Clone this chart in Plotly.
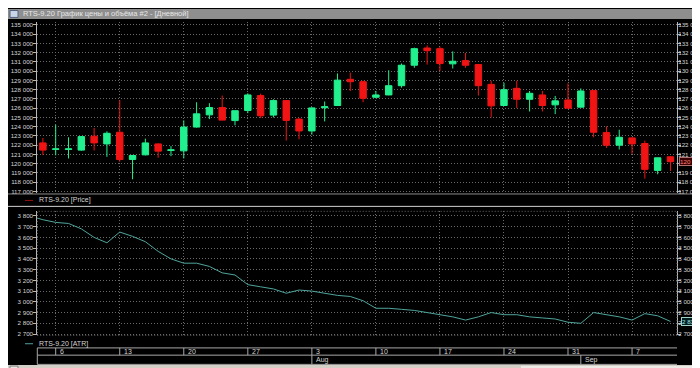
import plotly.graph_objects as go

# ---------------- data ----------------
dates = ["2020-07-03",
         "2020-07-06", "2020-07-07", "2020-07-08", "2020-07-09", "2020-07-10",
         "2020-07-13", "2020-07-14", "2020-07-15", "2020-07-16", "2020-07-17",
         "2020-07-20", "2020-07-21", "2020-07-22", "2020-07-23", "2020-07-24",
         "2020-07-27", "2020-07-28", "2020-07-29", "2020-07-30", "2020-07-31",
         "2020-08-03", "2020-08-04", "2020-08-05", "2020-08-06", "2020-08-07",
         "2020-08-10", "2020-08-11", "2020-08-12", "2020-08-13", "2020-08-14",
         "2020-08-17", "2020-08-18", "2020-08-19", "2020-08-20", "2020-08-21",
         "2020-08-24", "2020-08-25", "2020-08-26", "2020-08-27", "2020-08-28",
         "2020-08-31", "2020-09-01", "2020-09-02", "2020-09-03", "2020-09-04",
         "2020-09-07", "2020-09-08", "2020-09-09", "2020-09-10"]

open_ = [122250, 121550, 121550, 121470, 122970, 122140,
         123400, 120460, 120960, 122140, 121430,
         121390, 123960, 125280, 126070, 124660,
         125750, 127360, 125250, 126820, 124820,
         123540, 126050, 126290, 129120, 128860,
         127180, 127430, 128430, 130640, 132500,
         132430, 130790, 131140, 130710, 128570,
         126290, 128140, 126960, 127430, 126360,
         126890, 126110, 127900, 123360, 122000,
         122790, 122180, 119280, 120750]
high = [122790, 124210, 122860, 123000, 123860, 123500,
        126890, 120950, 122710, 122200, 121900,
        124680, 126640, 126540, 127360, 125730,
        127610, 127570, 126960, 126860, 124930,
        126100, 126720, 129750, 129840, 128970,
        127860, 130100, 130820, 132540, 132780,
        132640, 132140, 131970, 130750, 128970,
        128750, 128970, 127860, 127860, 127320,
        128680, 128140, 127950, 124040, 123680,
        122850, 122500, 120640, 120800]
low = [120930, 120910, 120570, 121400, 121430, 120750,
       120200, 118320, 120900, 120640, 120820,
       120570, 123900, 124820, 124700, 124150,
       125460, 124930, 125000, 122500, 122640,
       123140, 124570, 126250, 127850, 126640,
       127070, 127400, 128220, 130360, 130710,
       130000, 130290, 130360, 127360, 125000,
       126250, 126000, 125640, 125640, 125360,
       126000, 126100, 122860, 121710, 121540,
       121070, 118390, 118860, 119220]
close = [121470, 121600, 121600, 122930, 122250, 123290,
         120460, 120890, 122250, 121360, 121500,
         123960, 125390, 126070, 124710, 125730,
         127430, 125180, 126820, 124680, 123540,
         126030, 126150, 129030, 128860, 127070,
         127430, 128430, 130640, 132430, 132210,
         130820, 131070, 130640, 128430, 126250,
         128000, 126960, 127610, 126290, 126790,
         126000, 127860, 123400, 122000, 122860,
         122140, 119390, 120640, 120220]

atr_dates = ["2020-07-02"] + dates
atr = [3800, 3765,
       3740, 3730, 3680, 3600, 3550,
       3650, 3610, 3560, 3470, 3400,
       3360, 3360, 3330, 3270, 3250,
       3160, 3140, 3120, 3080, 3110,
       3100, 3080, 3060, 3050, 3010,
       2940, 2940, 2930, 2920, 2900,
       2880, 2860, 2830, 2860, 2900,
       2880, 2880, 2860, 2850, 2840,
       2810, 2800, 2900, 2880, 2860,
       2830, 2890, 2870, 2817]

week_ticks = ["2020-07-06", "2020-07-13", "2020-07-20", "2020-07-27", "2020-08-03",
              "2020-08-10", "2020-08-17", "2020-08-24", "2020-08-31", "2020-09-07"]
week_labels = ["6", "13", "20", "27", "3", "10", "17", "24", "31", "7"]
month_ticks = ["2020-08-03", "2020-09-01"]
month_labels = ["Aug", "Sep"]

price_ticks = list(range(117000, 135001, 1000))
atr_ticks = list(range(2700, 3801, 100))

title_text = "RTS-9.20 График цены и объёма #2 - [Дневной]"
price_legend = "RTS-9.20 [Price]"
atr_legend = "RTS-9.20 [ATR]"
last_price_label = "120 220"
last_atr_label = "2 817"

# ---------------- geometry helpers ----------------
W, H = 700, 368
def fx(px):
    return px / W
def fy(py):
    return 1 - py / H

FONT = "Liberation Sans"
GRID = "#6a6a6a"
AX = "#b8b8b8"
TXT = "#d4d4d4"
GREEN = "#22f08e"
RED = "#f01414"
TEAL = "#4fa59c"
TICKSIZE = 6.2

cat_range = [0.563, 50.51]

fig = go.Figure()

fig.add_trace(go.Candlestick(
    x=dates, open=open_, high=high, low=low, close=close,
    increasing=dict(line=dict(color=GREEN, width=1), fillcolor=GREEN),
    decreasing=dict(line=dict(color=RED, width=1), fillcolor=RED),
    whiskerwidth=0, xaxis="x", yaxis="y", hoverinfo="skip"))

fig.add_trace(go.Scatter(
    x=atr_dates, y=atr, mode="lines",
    line=dict(color=TEAL, width=1), xaxis="x2", yaxis="y2", hoverinfo="skip"))

# invisible companions so that the right-hand price/ATR scales are drawn
fig.add_trace(go.Scatter(x=dates, y=close, mode="lines", line=dict(width=0), opacity=0,
                         xaxis="x", yaxis="y3", hoverinfo="skip"))
fig.add_trace(go.Scatter(x=atr_dates, y=atr, mode="lines", line=dict(width=0), opacity=0,
                         xaxis="x2", yaxis="y4", hoverinfo="skip"))

xcommon = dict(type="category", categoryorder="array", categoryarray=atr_dates,
               range=cat_range, tickmode="array", tickvals=week_ticks, ticktext=week_labels,
               showticklabels=False, ticks="", showgrid=True, gridcolor=GRID,
               griddash="1px,2px", gridwidth=1, zeroline=False, showline=False,
               fixedrange=True)

ycommon = dict(tickmode="array", tickformat=",d", ticks="outside", ticklen=3,
               tickcolor=AX, showline=True, linecolor=AX, linewidth=1,
               tickfont=dict(family=FONT, size=TICKSIZE, color=TXT), zeroline=False,
               fixedrange=True)

top_dom = [fy(186), fy(13)]
bot_dom = [fy(329), fy(204)]
price_range = [116786, 135321]
atr_range = [2688, 3843]

fig.update_layout(
    width=W, height=H, margin=dict(l=0, r=0, t=0, b=0),
    paper_bgcolor="black", plot_bgcolor="black", showlegend=False,
    separators=". ", boxgap=0.28,
    xaxis=dict(domain=[fx(29.3), fx(669)], anchor="y", rangeslider=dict(visible=False), **xcommon),
    xaxis2=dict(domain=[fx(29.3), fx(669)], anchor="y2", matches="x", **xcommon),
    yaxis=dict(domain=top_dom, anchor="x", side="left", range=price_range,
               tickvals=price_ticks, showgrid=True, gridcolor=GRID, griddash="1px,2px",
               ticklabelstandoff=-1, **ycommon),
    yaxis3=dict(overlaying="y", anchor="x", side="right", range=price_range,
                tickvals=price_ticks, showgrid=False, ticklabelstandoff=-4, **ycommon),
    yaxis2=dict(domain=bot_dom, anchor="x2", side="left", range=atr_range,
                tickvals=atr_ticks, showgrid=True, gridcolor=GRID, griddash="1px,2px",
                ticklabelstandoff=-1, **ycommon),
    yaxis4=dict(overlaying="y2", anchor="x2", side="right", range=atr_range,
                tickvals=atr_ticks, showgrid=False, ticklabelstandoff=-4, **ycommon),
)

shapes = []
ann = []

# title bar
shapes.append(dict(type="rect", xref="paper", yref="paper", x0=0, x1=1, y0=fy(10), y1=1,
                   fillcolor="#8e8e8e", line=dict(width=0), layer="above"))
shapes.append(dict(type="rect", xref="paper", yref="paper", x0=fx(2), x1=fx(10), y0=fy(8.5), y1=fy(1.5),
                   fillcolor="#c8d4e8", line=dict(color="#506080", width=1), layer="above"))
ann.append(dict(text=title_text, xref="paper", yref="paper", x=fx(13), y=fy(5), xanchor="left",
                yanchor="middle", showarrow=False,
                font=dict(family=FONT, size=7.5, color="#e6e6e6")))

# right window strip and bottom scrollbar
shapes.append(dict(type="rect", xref="paper", yref="paper", x0=fx(698), x1=1, y0=0, y1=fy(10),
                   fillcolor="#d4d0c8", line=dict(width=0), layer="below"))
shapes.append(dict(type="rect", xref="paper", yref="paper", x0=0, x1=1, y0=0, y1=fy(359),
                   fillcolor="#d4d0c8", line=dict(width=0), layer="above"))
shapes.append(dict(type="rect", xref="paper", yref="paper", x0=fx(513), x1=fx(686), y0=fy(367), y1=fy(360),
                   fillcolor="#ecebe6", line=dict(width=0), layer="above"))
shapes.append(dict(type="rect", xref="paper", yref="paper", x0=fx(2), x1=fx(10), y0=fy(367), y1=fy(360),
                   fillcolor="#e8e6e0", line=dict(color="#808080", width=1), layer="above"))
shapes.append(dict(type="rect", xref="paper", yref="paper", x0=fx(687), x1=fx(695), y0=fy(367), y1=fy(360),
                   fillcolor="#e8e6e0", line=dict(color="#808080", width=1), layer="above"))

# panel separators
shapes.append(dict(type="line", xref="paper", yref="paper", x0=0, x1=fx(697), y0=fy(186.5), y1=fy(186.5),
                   line=dict(color="#8a8a8a", width=1)))
shapes.append(dict(type="line", xref="paper", yref="paper", x0=0, x1=fx(697), y0=fy(199), y1=fy(199),
                   line=dict(color="#d0d0d0", width=1)))
shapes.append(dict(type="rect", xref="paper", yref="paper", x0=fx(29.3), x1=fx(669), y0=fy(329), y1=fy(204),
                   line=dict(color=GRID, width=1, dash="1px,2px")))

# legends
shapes.append(dict(type="line", xref="paper", yref="paper", x0=fx(17), x1=fx(25), y0=fy(193), y1=fy(193),
                   line=dict(color="#9a1010", width=1)))
ann.append(dict(text=price_legend, xref="paper", yref="paper", x=fx(29), y=fy(193), xanchor="left",
                yanchor="middle", showarrow=False, font=dict(family=FONT, size=7, color=TXT)))
shapes.append(dict(type="line", xref="paper", yref="paper", x0=fx(17), x1=fx(25), y0=fy(337.5), y1=fy(337.5),
                   line=dict(color=TEAL, width=1)))
ann.append(dict(text=atr_legend, xref="paper", yref="paper", x=fx(29), y=fy(337.5), xanchor="left",
                yanchor="middle", showarrow=False, font=dict(family=FONT, size=7, color=TXT)))

# date strip
STRIP = "#a8a8a8"
for py in (341.7, 349, 358.3):
    shapes.append(dict(type="line", xref="paper", yref="paper", x0=fx(29.3), x1=fx(669), y0=fy(py), y1=fy(py),
                       line=dict(color=STRIP, width=1)))
shapes.append(dict(type="line", xref="paper", yref="paper", x0=fx(29.3), x1=fx(29.3), y0=fy(341.7), y1=fy(358.3),
                   line=dict(color=STRIP, width=1)))
for t, lab in zip(week_ticks, week_labels):
    shapes.append(dict(type="line", xref="x2", yref="paper", x0=t, x1=t, y0=fy(341.7), y1=fy(349),
                       line=dict(color=STRIP, width=1)))
    ann.append(dict(text=lab, xref="x2", yref="paper", x=t, y=fy(345.5), xanchor="left", yanchor="middle",
                    xshift=2, showarrow=False, font=dict(family=FONT, size=7, color=TXT)))
for t, lab in zip(month_ticks, month_labels):
    shapes.append(dict(type="line", xref="x2", yref="paper", x0=t, x1=t, y0=fy(349), y1=fy(358.3),
                       line=dict(color=STRIP, width=1)))
    ann.append(dict(text=lab, xref="x2", yref="paper", x=t, y=fy(354), xanchor="left", yanchor="middle",
                    xshift=2, showarrow=False, font=dict(family=FONT, size=7, color=TXT)))

# last value labels (right-anchored so they stay inside the window)
ann.append(dict(text=last_price_label, xref="paper", yref="y", x=fx(696), y=close[-1], xanchor="right",
                yanchor="middle", showarrow=False, bgcolor="#3a0000", bordercolor="#b07070", borderwidth=1,
                borderpad=0, font=dict(family=FONT, size=TICKSIZE, color="#ff8080")))
ann.append(dict(text=last_atr_label, xref="paper", yref="y2", x=fx(691), y=atr[-1], xanchor="right",
                yanchor="middle", showarrow=False, bgcolor="#002020", bordercolor="#a0d0c8", borderwidth=1,
                borderpad=0, font=dict(family=FONT, size=TICKSIZE, color="#b0e8e0")))

fig.update_layout(shapes=shapes, annotations=ann)
fig.write_html("out.html")
